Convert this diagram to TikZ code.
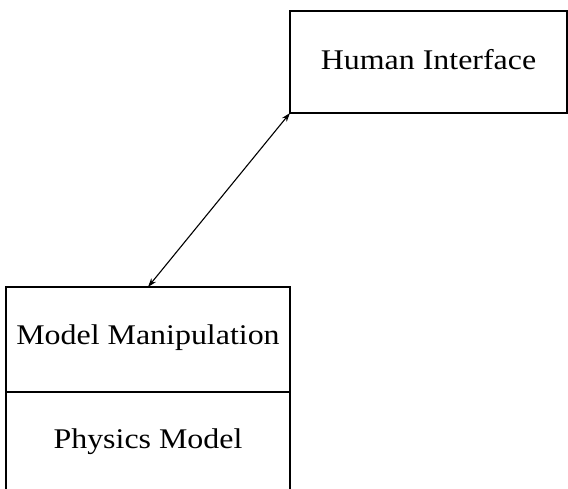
\documentclass[tikz,border=0pt]{standalone}
\usepackage{fontspec}
\setmainfont{Liberation Serif}[FakeStretch=1.12]
\usetikzlibrary{arrows.meta}
\begin{document}
\begin{tikzpicture}[x=1pt,y=-1pt,
  lbl/.style={font=\fontsize{28.5}{30}\selectfont, inner sep=0pt},
  boxline/.style={line width=1.3pt},
  conn/.style={line width=1.1pt, {Stealth[length=9pt,width=6pt]}-{Stealth[length=9pt,width=6pt]}}]
\useasboundingbox (0,0) rectangle (568,489);
\coordinate (hiA) at (290,11);
\coordinate (hiB) at (567,113);
\coordinate (mmA) at (6,287);
\coordinate (mmB) at (290,392);
\coordinate (pmB) at (290,489);
\draw[boxline] (hiA) rectangle (hiB);
\draw[boxline] (mmB) -- (mmA |- mmB) -- (mmA) -- (mmB |- mmA) -- (mmB);
\draw[boxline] (mmA |- mmB) -- (mmA |- pmB);
\draw[boxline] (mmB) -- (pmB);
\node[lbl] (hi) at (428.5,60) {Human Interface};
\node[lbl] (mm) at (148,338) {Model Manipulation};
\node[lbl] (pm) at (148,442) {Physics Model};
\coordinate (top) at (148,287);
\draw[conn] (top) -- (hiA |- hiB);
\end{tikzpicture}
\end{document}
